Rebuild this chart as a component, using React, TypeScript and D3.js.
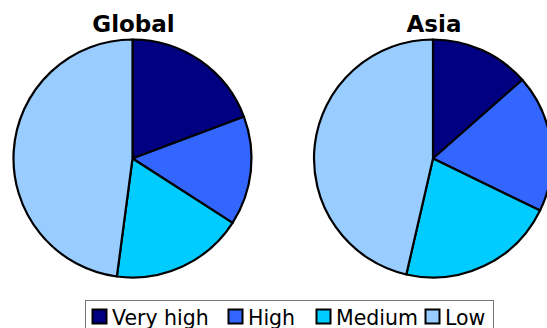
import React from "react";
import * as d3 from "d3";

// Risk categories and their shares (percent) for each region
const categories = ["Very high", "High", "Medium", "Low"];
const globalShares = [19.3, 14.8, 18.0, 47.9];
const asiaShares = [13.5, 18.7, 21.4, 46.4];
const regionTitles = ["Global", "Asia"];

const colors = ["#000080", "#3366FF", "#00CCFF", "#99CCFF"];

const WIDTH = 547;
const HEIGHT = 328;
const RADIUS = 119;
const CENTER_Y = 158.5;
const CENTERS_X = [132.5, 433];

// Legend layout
const LEGEND_SWATCH_X = [92, 228, 316, 425];

type PieProps = { values: number[]; cx: number; title: string };

function Pie({ values, cx, title }: PieProps) {
  const pie = d3
    .pie<number>()
    .sort(null)
    .value((d) => d)
    .startAngle(0)
    .endAngle(2 * Math.PI);
  const arc = d3.arc<d3.PieArcDatum<number>>().innerRadius(0).outerRadius(RADIUS);
  const arcs = pie(values);
  return (
    <g>
      <text
        x={cx + 1}
        y={32}
        textAnchor="middle"
        fontFamily="DejaVu Sans, Verdana, sans-serif"
        fontWeight="bold"
        fontSize={23}
        fill="#000"
      >
        {title}
      </text>
      <g transform={`translate(${cx},${CENTER_Y})`}>
        {arcs.map((a, i) => (
          <path
            key={categories[i]}
            d={arc(a) || ""}
            fill={colors[i]}
            stroke="#000"
            strokeWidth={2.2}
            strokeLinejoin="round"
          />
        ))}
      </g>
    </g>
  );
}

export default function App() {
  return (
    <svg
      width={WIDTH}
      height={HEIGHT}
      style={{ position: "absolute", left: 0, top: 0, background: "#fff" }}
    >
      <rect x={0} y={0} width={WIDTH} height={HEIGHT} fill="#fff" />
      <Pie values={globalShares} cx={CENTERS_X[0]} title={regionTitles[0]} />
      <Pie values={asiaShares} cx={CENTERS_X[1]} title={regionTitles[1]} />
      <g>
        <rect
          x={85.5}
          y={300.5}
          width={408}
          height={40}
          fill="#fff"
          stroke="#777"
          strokeWidth={1}
        />
        {categories.map((c, i) => (
          <g key={c}>
            <rect
              x={LEGEND_SWATCH_X[i] + 0.5}
              y={309.5}
              width={14}
              height={14}
              fill={colors[i]}
              stroke="#000"
              strokeWidth={2}
            />
            <text
              x={LEGEND_SWATCH_X[i] + 20}
              y={324.5}
              fontFamily="DejaVu Sans, Verdana, sans-serif"
              fontSize={20.5}
              fill="#000"
            >
              {c}
            </text>
          </g>
        ))}
      </g>
    </svg>
  );
}
